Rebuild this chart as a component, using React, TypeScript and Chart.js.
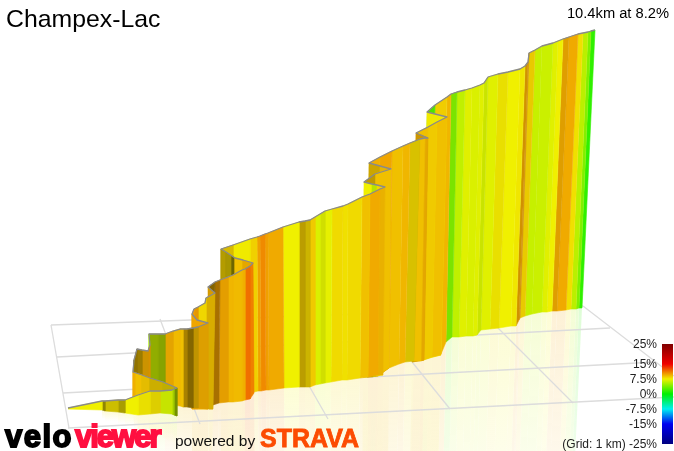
import { useEffect, useRef } from 'react';
import { Chart, registerables } from 'chart.js';

Chart.register(...registerables);

// road stations, first to last (scene units)
const ridgeX = [
  68, 102, 105, 118, 125, 138, 150, 160, 172, 174,
  177, 163, 150, 142, 136,
  133, 134, 137, 142, 148, 150, 149, 158, 165, 173, 180, 183, 187, 193, 198,
  208, 197, 192, 194, 198, 205, 206, 215, 208, 215, 220, 228, 233, 242, 245, 250,
  253, 243, 235, 232, 226,
  221, 233, 250, 257, 260, 265, 268, 283, 299, 305, 310, 315, 320, 325, 332, 343, 348, 362, 370, 380,
  385, 377, 372, 364, 375, 391, 380, 369, 380,
  392, 403, 410, 420, 425, 428, 416, 428, 437, 447, 427, 435, 447,
  451, 457, 465, 472, 480, 484, 488, 498, 508, 520, 525, 528, 529, 535, 542, 553, 558, 563, 569, 578, 583, 588, 591, 595,
];
const ridgeY = [
  408, 401, 401, 400, 400, 395, 391, 391, 390, 389,
  388, 382, 378, 375, 373,
  372, 360, 349, 350, 351, 345, 334, 334, 334, 331, 329, 329, 329, 328, 327,
  323, 320, 314, 309, 307, 303, 298, 293, 287, 282, 280, 277, 275, 270, 269, 266,
  263, 260, 258, 256, 252,
  249, 245, 239, 237, 236, 234, 233, 227, 222, 221, 220, 217, 214, 211, 209, 206, 204, 197, 194, 189,
  187, 185, 184, 182, 174, 169, 166, 163, 157,
  151, 146, 143, 139, 138, 138, 133, 127, 122, 117, 112, 105, 97,
  94, 92, 90, 88, 85, 83, 77, 74, 72, 69, 66, 62, 53, 50, 46, 43, 41, 39, 37, 34, 33, 32, 31, 30,
];
const baseX = [
  68, 102, 105, 118, 125, 138, 150, 160, 172, 174,
  177, 163, 150, 142, 136,
  133, 134, 137, 142, 148, 150, 149, 158, 165, 173, 180, 183, 187, 193, 198,
  208, 197, 192, 194, 198, 205, 206, 213, 209, 213, 219, 228, 233, 242, 245, 250,
  254, 243, 235, 232, 226,
  221, 233, 250, 258, 261, 266, 269, 284, 299, 305, 310, 315, 320, 325, 331, 342, 347, 360, 368, 378,
  383, 376, 371, 363, 373, 389, 378, 367, 378,
  389, 399, 405, 414, 421, 424, 412, 424, 432, 441, 422, 429, 441,
  446, 452, 459, 466, 473, 477, 481, 490, 499, 511, 516, 519, 520, 525, 532, 542, 547, 552, 557, 566, 571, 576, 579, 582,
];
const baseY = [
  409, 410, 411, 412, 413, 415, 414, 413, 414, 415,
  416, 410, 405, 400, 398,
  397, 398, 398, 398, 398, 398, 398, 400, 402, 405, 406, 407, 407, 408, 408,
  409, 409, 409, 409, 409, 409, 409, 409, 409, 405, 403, 402, 402, 401, 400, 399,
  393, 395, 395, 395, 395,
  395, 395, 393, 391, 391, 390, 390, 388, 387, 387, 387, 385, 384, 383, 382, 380, 380, 378, 377, 375,
  375, 376, 376, 377, 377, 368, 376, 377, 376,
  368, 364, 362, 361, 361, 360, 362, 360, 357, 355, 360, 357, 354,
  342, 337, 337, 336, 336, 335, 330, 329, 328, 326, 326, 320, 318, 316, 314, 312, 312, 311, 311, 310, 309, 309, 308, 308,
];
// gradient % of the stretch starting at each station
const stationGrade = [
  7.5, 8, 8, 8, 7.5, 7.8, 8, 6.5, 6, 6,
  8.2, 8.6, 8.8, 9, 9.5,
  8.5, 9, 9, 9.6, 10, 5.5, 6.3, 6.2, 9.6, 9.2, 9, 9.2, 9.2, 9.2, 9.6,
  9.8, 9.8, 10, 10, 8.3, 8.3, 9, 9.6, 9.3, 10, 9.8, 9.3, 9.2, 9.5, 11.5, 11,
  9.5, 9, 8, 8.3, 8.5,
  8.5, 7.7, 8.5, 10, 10.7, 10, 9.7, 7.5, 8.7, 8.4, 8.7, 6.8, 7, 7.2, 8.2, 8, 8.2, 9, 9.7, 9.3,
  8.3, 6, 7.5, 9, 9, 9.1, 8.9, 9.5, 9.8,
  9, 9.3, 8.3, 9, 9.5, 9.5, 9, 8.7, 9, 7.7, 2.5, 8.6, 9.3,
  4, 6, 7, 6.8, 7, 6.6, 7, 7.8, 7.5, 7.8, 9.8, 9.8, 8.5, 6.2, 6.3, 7, 7.5, 9.7, 9.7, 8, 5.8, 4, 1.5, 0,
];
// how much light the wall catches on that stretch
const wallLight = [
  1, 0.6, 0.85, 0.7, 1, 0.97, 0.92, 0.95, 0.85, 0.6,
  0.8, 0.85, 0.95, 1, 1,
  0.6, 0.6, 0.65, 0.85, 0.9, 1, 0.72, 0.68, 0.95, 1, 1, 0.7, 0.55, 0.8, 0.92,
  1, 1, 1, 0.95, 1, 1, 0.9, 0.9, 0.55, 0.7, 0.95, 1, 1, 1, 1, 1,
  0.95, 1, 0.45, 0.7, 0.75,
  0.9, 1, 1, 1, 1, 1, 1, 1, 0.78, 0.85, 1, 1, 0.93, 1, 1, 1, 1, 1, 1, 0.97,
  1, 0.95, 1, 0.8, 1, 0.95, 0.85, 1, 1,
  1, 1, 0.9, 1, 0.95, 0.85, 1, 1, 1, 1, 0.95, 1, 1,
  0.95, 1, 1, 1, 1, 0.95, 1, 0.97, 1, 1, 0.87, 0.87, 0.97, 1, 1, 1, 1, 0.93, 1, 1, 1, 1, 1, 1,
];

// floor grid lines as [x0, y0, x1, y1]
const gridRows = [
  [51, 325, 583, 306],
  [57, 357, 610, 328],
  [63, 393, 656, 362],
  [68, 428, 674, 397],
];
const gridDepths = [
  [51, 325, 69, 428],
  [160, 319, 200, 424],
  [300, 370, 328, 419],
  [400, 347, 450, 409],
  [478, 308, 573, 403],
  [583, 306, 674, 376],
];

const legendGrades = [25, 15, 7.5, 0, -7.5, -15, -25];
const legendLabels = ['25%', '15%', '7.5%', '0%', '-7.5%', '-15%', '(Grid: 1 km) -25%'];
const rampGrades = [25, 15, 7.5, 0, -7.5, -15, -25];
const rampColors = [
  [128, 0, 0],
  [240, 0, 0],
  [240, 240, 0],
  [0, 240, 0],
  [0, 240, 240],
  [0, 0, 240],
  [0, 0, 128],
];

function gradeRgb(grade: number) {
  for (let i = 1; i < rampGrades.length; i++) {
    if (grade >= rampGrades[i]) {
      const t = (grade - rampGrades[i]) / (rampGrades[i - 1] - rampGrades[i]);
      return rampColors[i].map((c, k) => c + (rampColors[i - 1][k] - c) * t);
    }
  }
  return rampColors[rampColors.length - 1];
}

function rgba(rgb: number[], amount: number, alpha = 1) {
  const [r, g, b] = rgb.map((c) => Math.round(255 + (c - 255) * amount));
  return `rgba(${r},${g},${b},${alpha})`;
}

function quad(i: number, j: number) {
  return [
    { x: ridgeX[i], y: ridgeY[i] },
    { x: ridgeX[j], y: ridgeY[j] },
    { x: baseX[j], y: baseY[j] },
    { x: baseX[i], y: baseY[i] },
  ];
}

function mirrorQuad(i: number, j: number) {
  return [
    { x: baseX[i], y: baseY[i] },
    { x: baseX[j], y: baseY[j] },
    { x: 2 * baseX[j] - ridgeX[j], y: 2 * baseY[j] - ridgeY[j] },
    { x: 2 * baseX[i] - ridgeX[i], y: 2 * baseY[i] - ridgeY[i] },
  ];
}

const labelsPlugin = {
  id: 'labels',
  afterDraw(chart: Chart) {
    const { ctx, scales } = chart;
    ctx.save();
    ctx.fillStyle = '#000';
    ctx.textBaseline = 'alphabetic';
    ctx.textAlign = 'left';
    ctx.font = '24.8px "Liberation Sans"';
    ctx.fillText('Champex-Lac', 6, 27);
    ctx.textAlign = 'right';
    ctx.font = '14.7px "Liberation Sans"';
    ctx.fillText('10.4km at 8.2%', 669, 18);

    ctx.font = '12px "Liberation Sans"';
    ctx.fillStyle = '#222';
    legendGrades.forEach((g, i) => {
      ctx.fillText(legendLabels[i], 657, scales.gradeAxis.getPixelForValue(g) + 4);
    });

    // logo line
    ctx.textAlign = 'left';
    ctx.font = 'bold 31px "Liberation Sans"';
    (ctx as any).letterSpacing = '1.5px';
    ctx.lineWidth = 1.8;
    ctx.strokeStyle = '#000';
    ctx.fillStyle = '#000';
    ctx.fillText('velo', 5, 447);
    ctx.strokeText('velo', 5, 447);
    (ctx as any).letterSpacing = '-2px';
    ctx.strokeStyle = '#ff1040';
    ctx.fillStyle = '#ff1040';
    ctx.fillText('viewer', 75, 447);
    ctx.strokeText('viewer', 75, 447);
    (ctx as any).letterSpacing = '0px';
    ctx.font = '15.5px "Liberation Sans"';
    ctx.fillStyle = '#111';
    ctx.fillText('powered by', 175, 446);
    ctx.font = 'bold 25px "Liberation Sans"';
    ctx.fillStyle = '#fc4c02';
    ctx.strokeStyle = '#fc4c02';
    ctx.lineWidth = 0.8;
    ctx.fillText('STRAVA', 260, 447);
    ctx.strokeText('STRAVA', 260, 447);
    ctx.restore();
  },
};

export default function App() {
  const canvasRef = useRef<HTMLCanvasElement>(null);

  useEffect(() => {
    if (!canvasRef.current) return;
    const ctx = canvasRef.current.getContext('2d');
    if (!ctx) return;

    const last = ridgeX.length - 1;
    const walls: any[] = [];
    const mirrors: any[] = [];
    for (let i = 0; i < last; i++) {
      const rgb = gradeRgb(stationGrade[i]).map((c) => c * wallLight[i]);
      const color = rgba(rgb, 1);
      walls.push({
        data: quad(i, i + 1),
        backgroundColor: color,
        borderColor: color,
        borderWidth: 0.6,
        fill: 'shape',
        pointRadius: 0,
      });

      // the pale reflection on the floor: solid at the foot of the wall, gone at its mirrored top
      const tint = gradeRgb(stationGrade[i]);
      const fade = ctx.createLinearGradient(0, baseY[i], 0, 2 * baseY[i] - ridgeY[i]);
      fade.addColorStop(0, rgba(tint, 0.16));
      fade.addColorStop(1, rgba(tint, 0.16, 0));
      mirrors.push({
        data: mirrorQuad(i, i + 1),
        backgroundColor: fade,
        borderColor: 'rgba(0,0,0,0)',
        borderWidth: 0,
        fill: 'shape',
        pointRadius: 0,
      });
    }

    const gridLines = [...gridRows, ...gridDepths].map((g) => ({
      data: [
        { x: g[0], y: g[1] },
        { x: g[2], y: g[3] },
      ],
      borderColor: '#dcdcdc',
      borderWidth: 1.3,
      pointRadius: 0,
    }));

    const ramp = ctx.createLinearGradient(0, 344, 0, 444);
    rampGrades.forEach((g, i) => {
      const c = rampColors[i];
      ramp.addColorStop((25 - g) / 50, `rgb(${c[0]},${c[1]},${c[2]})`);
    });

    const chart = new Chart(ctx, {
      type: 'line',
      data: {
        datasets: [
          {
            data: ridgeX.map((x, i) => ({ x, y: ridgeY[i] })),
            borderColor: '#8a8a8a',
            borderWidth: 1.3,
            pointRadius: 0,
            borderJoinStyle: 'round',
          },
          {
            data: [
              { x: 667.5, y: -25 },
              { x: 667.5, y: 25 },
            ],
            yAxisID: 'gradeAxis',
            borderColor: ramp,
            borderWidth: 11,
            pointRadius: 0,
          },
          ...walls,
          ...gridLines,
          ...mirrors,
        ],
      },
      options: {
        responsive: false,
        animation: false,
        layout: { padding: 0 },
        events: [],
        scales: {
          x: { type: 'linear', min: 0, max: 674, display: false },
          y: { type: 'linear', min: 0, max: 451, reverse: true, display: false },
          gradeAxis: { type: 'linear', min: -28.5, max: 197, display: false },
        },
        plugins: {
          legend: { display: false },
          tooltip: { enabled: false },
        },
      },
      plugins: [labelsPlugin],
    });

    return () => {
      chart.destroy();
    };
  }, []);

  return (
    <div style={{ position: 'fixed', left: 0, top: 0, width: 674, height: 451, background: '#fff' }}>
      <canvas ref={canvasRef} width={674} height={451} />
    </div>
  );
}
